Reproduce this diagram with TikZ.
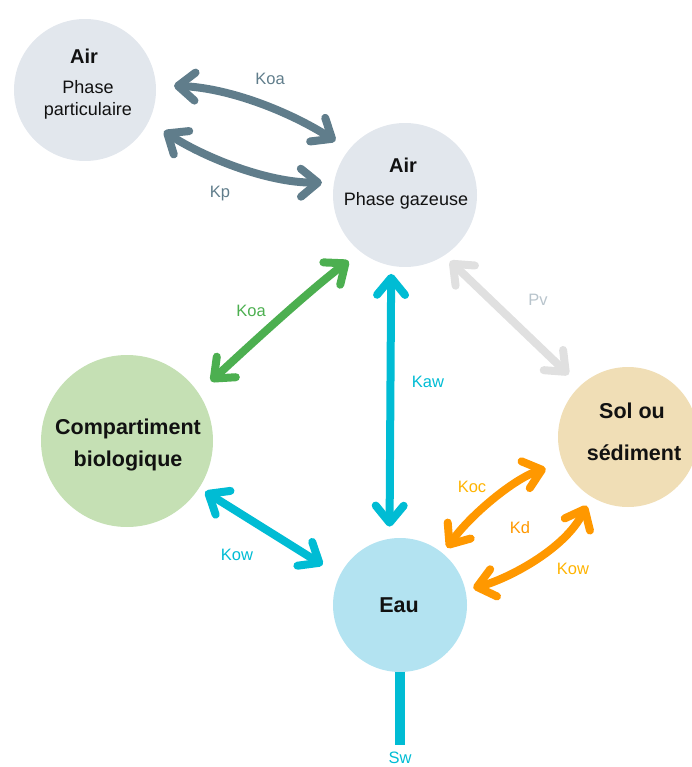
\documentclass[tikz,border=0pt]{standalone}
\usepackage{fontspec}
\setmainfont{Liberation Sans}
\usetikzlibrary{arrows.meta}
\definecolor{airc}{HTML}{E2E7ED}
\definecolor{bioc}{HTML}{C5E0B4}
\definecolor{solc}{HTML}{F0DEB6}
\definecolor{eauc}{HTML}{B3E3F1}
\definecolor{slate}{HTML}{607D8B}
\definecolor{leaf}{HTML}{4CAF50}
\definecolor{aqua}{HTML}{00BCD4}
\definecolor{pvgray}{HTML}{E0E0E0}
\definecolor{pvtext}{HTML}{B8C4CC}
\definecolor{orng}{HTML}{FF9800}
\definecolor{ambr}{HTML}{FFB300}
\definecolor{ink}{HTML}{111111}
\begin{document}
\begin{tikzpicture}[x=1pt,y=-1pt,
  comp/.style={circle, inner sep=0pt, minimum size=#1, draw=none},
  title/.style={font=\fontsize{20}{24}\selectfont\bfseries, anchor=base, inner sep=0pt, text=ink},
  big/.style={font=\fontsize{21.5}{26}\selectfont\bfseries, anchor=base, inner sep=0pt, text=ink},
  sub/.style={font=\fontsize{18}{22}\selectfont, anchor=base, inner sep=0pt, text=ink},
  klabel/.style={font=\fontsize{16.5}{20}\selectfont, anchor=base, inner sep=0pt},
  flux/.style={line width=8pt, line cap=round,
    {Straight Barb[length=17pt,width=28pt,round]}-{Straight Barb[length=17pt,width=28pt,round]}},
]
\useasboundingbox (0,0) rectangle (691,767);

% compartments
\node[comp=142, fill=airc] (airp) at (85,90) {};
\node[comp=144, fill=airc] (airg) at (405,195) {};
\node[comp=172, fill=bioc] (bio) at (127,441) {};
\node[comp=140, fill=solc] (sol) at (628,437) {};
\node[comp=134, fill=eauc] (eau) at (400,605) {};

% texts
\node[title] (airpA) at (84,64) {Air};
\node[sub] (airpB) at (88,94) {Phase};
\node[sub] (airpC) at (88,116) {particulaire};
\node[title] (airgA) at (403,173) {Air};
\node[sub] (airgB) at (406,205) {Phase gazeuse};
\node[big] (bioA) at (128,434) {Compartiment};
\node[big] (bioB) at (128,466) {biologique};
\node[big] (solA) at (632,418) {Sol ou};
\node[big] (solB) at (634,460) {sédiment};
\node[big] (eauA) at (399,612) {Eau};

% Sw stem
\coordinate (swend) at (400,745);
\draw[aqua, line width=10pt] (eau.south) -- (swend);
\node[klabel, text=aqua] (sw) at (400,763) {Sw};

% connectors
\draw[flux, slate, shorten <=18pt, shorten >=16pt] (airp.4) .. controls (230,88) and (290,112) .. (airg.141);
\draw[flux, slate, shorten <=18pt, shorten >=12pt] (airp.-26) .. controls (200,155) and (265,183) .. (airg.170);
\draw[flux, leaf, shorten <=17pt, shorten >=15pt] (bio.34) .. controls (250,345) and (310,290) .. (airg.232);
\draw[flux, aqua, shorten <=8pt, shorten >=12pt] (airg.-101) -- (eau.99);
\draw[flux, pvgray, shorten <=8pt, shorten >=16pt] (airg.-57) -- (sol.133);
\draw[flux, aqua, shorten <=7pt, shorten >=20pt] (bio.-33) -- (eau.154);
\draw[flux, orng, shorten <=7pt, shorten >=18pt] (eau.50) .. controls (470,515) and (515,478) .. (sol.202);
\draw[flux, orng, shorten <=8pt, shorten >=10pt] (eau.13) .. controls (505,580) and (565,550) .. (sol.238);

% labels
\node[klabel, text=slate] (lkoa) at (270,85) {Koa};
\node[klabel, text=slate] (lkp) at (220,197) {Kp};
\node[klabel, text=leaf] (lkoa2) at (251,316) {Koa};
\node[klabel, text=aqua] (lkaw) at (428,387) {Kaw};
\node[klabel, text=pvtext] (lpv) at (538,305) {Pv};
\node[klabel, text=aqua] (lkow) at (237,560) {Kow};
\node[klabel, text=ambr] (lkoc) at (472,492) {Koc};
\node[klabel, text=orng] (lkd) at (520,533) {Kd};
\node[klabel, text=ambr] (lkow2) at (573,574) {Kow};
\end{tikzpicture}
\end{document}
